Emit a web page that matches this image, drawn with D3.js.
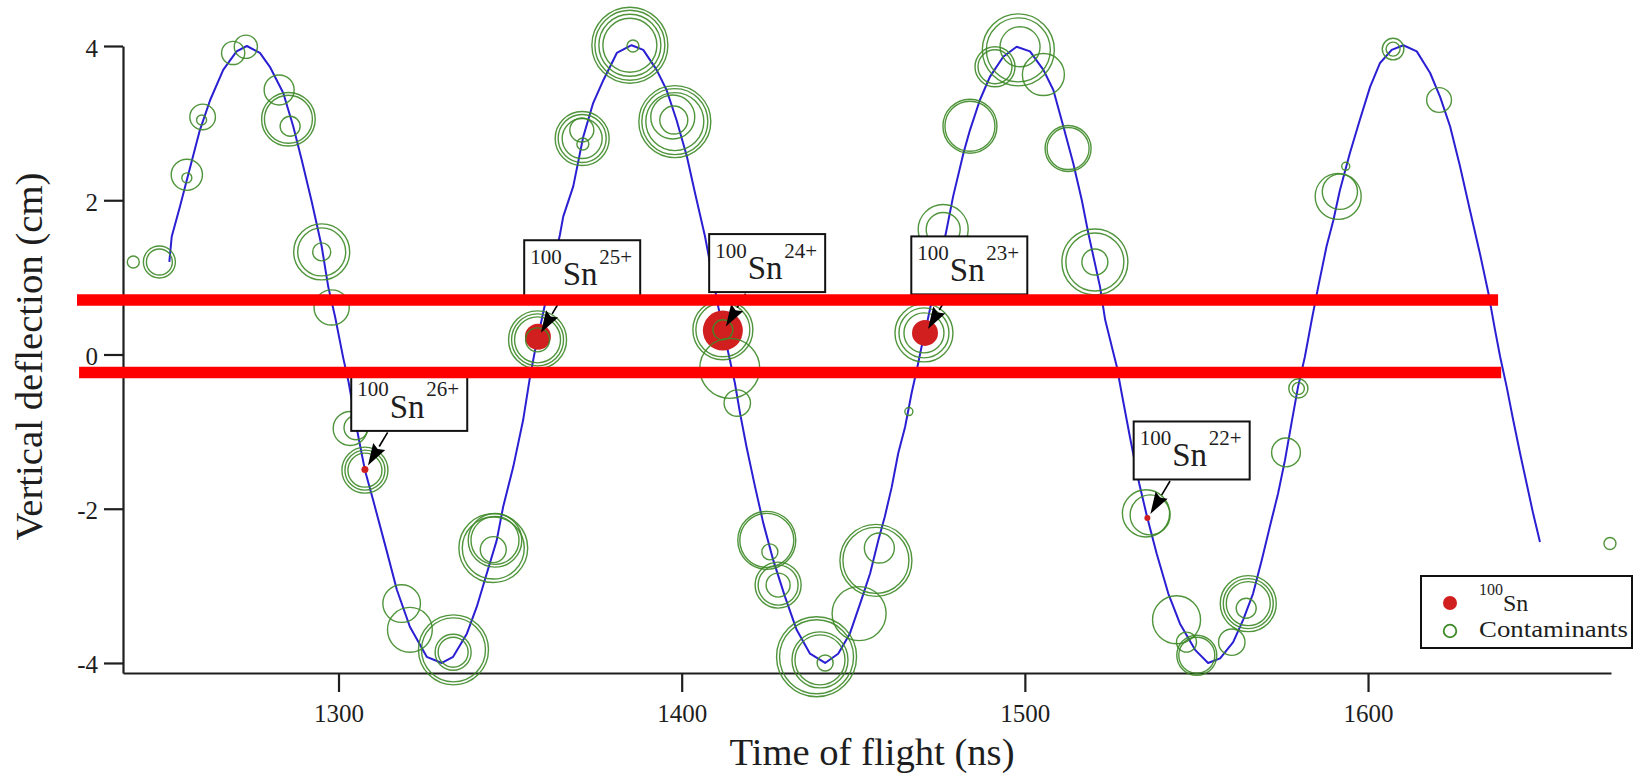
<!DOCTYPE html>
<html>
<head>
<meta charset="utf-8">
<script src="https://cdn.jsdelivr.net/npm/d3@7"></script>
<style>
html,body{margin:0;padding:0;background:#fff;}
svg{display:block;}
svg text{font-family:'Liberation Serif','DejaVu Serif',serif;}
</style>
</head>
<body>
<svg id="chart" width="1635" height="775"></svg>
<script>
// ---------------- DATA ----------------
// Simulated trajectory of 100Sn: [time of flight (ns), vertical deflection (cm)]
const curvePoints = [
[1250.7,1.20],[1251.4,1.53],[1253.8,1.92],[1256.2,2.33],[1259.6,2.91],[1262.6,3.30],[1266.4,3.69],[1270.3,3.93],
[1273.3,4.00],[1277.1,3.91],[1280.0,3.73],[1283.9,3.39],[1286.8,2.96],[1289.3,2.52],[1292.2,1.98],[1295.1,1.40],
[1297.0,0.88],[1299.0,0.49],[1301.4,-0.05],[1302.9,-0.35],[1305.8,-1.07],[1307.7,-1.50],[1310.1,-1.89],[1314.0,-2.54],
[1317.0,-3.05],[1320.8,-3.53],[1325.7,-3.92],[1330.1,-4.00],[1333.4,-3.92],[1337.4,-3.62],[1340.3,-3.27],[1343.2,-2.84],
[1346.1,-2.41],[1348.0,-1.97],[1350.9,-1.46],[1353.8,-0.85],[1355.8,-0.29],[1357.3,0.06],[1359.2,0.45],[1364.5,1.55],
[1365.5,1.79],[1368.4,2.18],[1371.3,2.82],[1374.2,3.26],[1377.2,3.56],[1381.1,3.91],[1385.4,4.01],[1388.8,3.95],
[1392.7,3.69],[1395.6,3.43],[1398.5,3.04],[1401.5,2.57],[1403.9,2.09],[1406.8,1.53],[1410.7,0.61],[1413.6,0.02],
[1415.5,-0.37],[1417.0,-0.76],[1418.9,-1.20],[1421.4,-1.72],[1423.8,-2.19],[1426.7,-2.67],[1430.1,-3.14],[1433.5,-3.57],
[1437.4,-3.88],[1441.8,-4.00],[1445.6,-3.88],[1449.0,-3.62],[1452.0,-3.23],[1454.9,-2.84],[1457.3,-2.41],[1459.2,-2.10],
[1461.2,-1.72],[1463.1,-1.28],[1465.1,-0.94],[1467.0,-0.50],[1468.5,-0.20],[1469.9,0.10],[1470.9,0.28],[1477.2,1.62],
[1479.1,2.05],[1482.1,2.61],[1484.0,2.91],[1486.9,3.30],[1489.8,3.60],[1493.7,3.86],[1497.6,3.99],[1501.5,3.93],
[1505.4,3.69],[1508.3,3.43],[1511.2,2.96],[1514.1,2.48],[1516.6,2.00],[1518.5,1.57],[1521.9,0.88],[1523.4,0.45],
[1525.8,0.02],[1526.8,-0.16],[1528.2,-0.50],[1530.7,-1.09],[1533.3,-1.67],[1535.7,-2.12],[1538.4,-2.58],[1541.8,-3.10],
[1545.2,-3.49],[1549.6,-3.83],[1553.4,-4.00],[1556.9,-3.94],[1560.7,-3.73],[1563.6,-3.44],[1566.5,-3.10],[1569.0,-2.67],
[1571.4,-2.23],[1573.8,-1.80],[1575.8,-1.37],[1577.7,-0.89],[1579.6,-0.42],[1581.6,-0.03],[1583.6,0.45],[1585.5,0.88],
[1587.9,1.40],[1589.9,1.74],[1591.8,2.13],[1594.7,2.61],[1597.6,3.04],[1600.6,3.47],[1603.5,3.78],[1606.9,3.95],
[1610.3,4.01],[1614.2,3.93],[1618.1,3.65],[1621.0,3.34],[1623.9,2.96],[1626.8,2.44],[1629.7,1.87],[1632.6,1.31],
[1635.1,0.79],[1637.0,0.32],[1638.5,-0.03],[1640.4,-0.42],[1642.3,-0.85],[1644.3,-1.28],[1646.2,-1.67],[1648.1,-2.06],
[1650.1,-2.43]
];

// Contaminants: [time of flight (ns), deflection (cm), intensity (a.u.)]
const contaminants = [
[1240.2,1.20,15],
[1247.8,1.20,40],[1247.8,1.20,32.5],
[1255.8,2.33,39],[1255.8,2.29,12.5],
[1260.4,3.08,32],[1260.1,3.04,12.5],
[1269.3,3.91,29],
[1273.0,3.99,29],
[1282.7,3.43,37.5],
[1285.4,3.05,67],[1285.4,3.05,60],[1285.9,2.96,25],
[1295.1,1.33,70],[1295.1,1.33,60],[1295.1,1.33,22.5],
[1298.0,0.61,44],
[1303.4,-0.96,42.5],[1305.1,-0.95,30],
[1307.7,-1.50,57.5],[1307.7,-1.50,50],[1307.7,-1.50,42.5],
[1318.4,-3.23,47],
[1320.8,-3.57,56],
[1333.5,-3.83,87.5],[1333.5,-3.83,80],[1333.4,-3.86,45],[1333.4,-3.86,37.5],
[1345.1,-2.51,86],[1345.1,-2.51,77.5],[1345.6,-2.41,67],[1345.6,-2.41,60],[1345.1,-2.53,32.5],
[1358.0,0.19,72.5],[1358.0,0.19,65],[1358.0,0.19,57.5],[1358.0,0.19,30],
[1371.0,2.80,67.5],[1371.0,2.80,60],[1371.0,2.80,50],[1370.9,2.91,30],[1371.2,2.73,15],
[1384.9,4.01,95],[1384.9,4.01,87.5],[1384.9,4.01,77.5],[1384.9,4.01,67.5],[1385.8,4.00,15],
[1398.0,3.02,90],[1398.0,3.02,82.5],[1398.0,3.02,72.5],[1397.4,3.08,55],[1397.7,3.04,35],
[1412.0,0.32,75],[1412.0,0.32,67.5],[1412.0,0.32,25],
[1414.0,-0.18,75],
[1416.2,-0.63,33],
[1424.8,-2.41,72.5],[1424.8,-2.41,67.5],[1425.7,-2.56,20],
[1428.1,-2.99,57.5],[1428.1,-2.99,50],[1428.1,-2.99,30],
[1439.3,-3.92,100],[1439.3,-3.92,92.5],[1440.3,-3.96,70],[1440.3,-3.96,62.5],[1441.8,-4.00,20],
[1451.7,-3.36,67.5],
[1456.6,-2.67,90],[1456.6,-2.67,82.5],[1457.6,-2.51,37.5],
[1466.2,-0.74,10],
[1470.6,0.28,72.5],[1470.6,0.28,62.5],[1470.6,0.28,50],
[1476.2,1.62,62.5],[1476.2,1.62,42.5],
[1484.0,2.96,67.5],[1484.0,2.96,62.5],
[1491.3,3.73,50],[1491.3,3.73,42.5],
[1498.1,3.95,90],[1498.1,3.95,80],[1498.6,3.99,50],
[1505.4,3.63,52.5],
[1512.6,2.67,57.5],[1512.6,2.67,52.5],
[1520.4,1.20,82.5],[1520.4,1.20,72.5],[1520.4,1.20,32.5],
[1535.3,-2.06,59],[1536.5,-2.08,50],
[1544.2,-3.44,60],
[1547.1,-3.73,25],
[1550.1,-3.90,50],[1550.1,-3.90,45],
[1560.3,-3.73,33],
[1565.1,-3.23,70],[1565.1,-3.23,62.5],[1565.1,-3.23,55],[1564.5,-3.29,25],
[1576.1,-1.27,36],
[1579.7,-0.44,24],[1579.7,-0.44,15],
[1591.3,2.05,57.5],[1591.8,2.11,44],
[1593.5,2.44,10],
[1607.3,3.96,27],[1607.3,3.96,17.5],
[1620.7,3.30,31],
[1670.5,-2.45,15]
];

// 100Sn ions: [time of flight (ns), deflection (cm), intensity (a.u.)]
const snPoints = [
[1307.7,-1.49,8.75],
[1358.1,0.23,32.5],
[1412.0,0.31,50],
[1470.9,0.28,32.5],
[1535.7,-2.12,7.5]
];
const snCharges = ["26+","25+","24+","23+","22+"];

// Acceptance window (red lines): deflection (cm), start / end time (ns)
const gateV  = [0.707, -0.233];
const gateT0 = [1223.8, 1224.4];
const gateT1 = [1637.9, 1638.8];

const xTicks = [1300, 1400, 1500, 1600];
const yTicks = [-4, -2, 0, 2, 4];
const xDomain = [1237.2, 1670.8];
const yDomain = [-4.13, 4];
const xTitle = "Time of flight (ns)";
const yTitle = "Vertical deflection (cm)";
const legendLabels = ["Sn", "Contaminants"];

// ---------------- DRAWING ----------------
const FONT = "'Liberation Serif','DejaVu Serif',serif";
const INK = "#1e1e1e";
const GREEN = "#3d8a27";
const RED_DOT = "#d11f1f";
const BLUE = "#2a1fd2";

const svg = d3.select("#chart");
svg.append("rect").attr("width",1635).attr("height",775).attr("fill","#fff");

const x = d3.scaleLinear().domain(xDomain).range([123, 1611]);
const y = d3.scaleLinear().domain(yDomain).range([673, 46]);
const r = d3.scaleLinear().domain([0, 100]).range([0, 40]);

// axes
const gx = svg.append("g")
  .attr("transform", `translate(0,${y(yDomain[0])})`)
  .call(d3.axisBottom(x).tickValues(xTicks).tickSize(19).tickSizeOuter(0)
        .tickPadding(12).tickFormat(d3.format("d")));
const gy = svg.append("g")
  .attr("transform", `translate(${x(xDomain[0])},0)`)
  .call(d3.axisLeft(y).tickValues(yTicks).tickSize(19).tickSizeOuter(0)
        .tickPadding(6).tickFormat(d => String(d)));
[gx, gy].forEach(g => {
  g.attr("font-family", null).attr("font-size", null);
  g.selectAll("path, line").attr("stroke", INK).attr("stroke-width", 2.2);
  g.selectAll("text").style("font-family", FONT).style("font-size", "25px").attr("fill", INK);
});
gy.selectAll("text").attr("dy", "0.4em");

// axis titles
svg.append("text")
  .attr("x", (x.range()[0] + x.range()[1]) / 2 + 5).attr("y", 765)
  .attr("text-anchor", "middle")
  .style("font-size", "38px").attr("fill", INK)
  .attr("textLength", 285).attr("lengthAdjust", "spacingAndGlyphs")
  .text(xTitle);
svg.append("text")
  .attr("transform", `translate(42,${(y.range()[0] + y.range()[1]) / 2 - 3}) rotate(-90)`)
  .attr("text-anchor", "middle")
  .style("font-size", "38px").attr("fill", INK)
  .attr("textLength", 368).attr("lengthAdjust", "spacingAndGlyphs")
  .text(yTitle);

// trajectory curve
const line = d3.line().x(d => x(d[0])).y(d => y(d[1]));
svg.append("path")
  .datum(curvePoints)
  .attr("d", line)
  .attr("fill", "none")
  .attr("stroke", BLUE)
  .attr("stroke-width", 2)
  .attr("stroke-linejoin", "round");

// 100Sn markers
svg.append("g").selectAll("circle")
  .data(snPoints).join("circle")
  .attr("cx", d => x(d[0])).attr("cy", d => y(d[1]))
  .attr("r", d => r(d[2]))
  .attr("fill", RED_DOT);

// contaminants
svg.append("g").selectAll("circle")
  .data(contaminants).join("circle")
  .attr("cx", d => x(d[0])).attr("cy", d => y(d[1]))
  .attr("r", d => r(d[2]))
  .attr("fill", "none")
  .attr("stroke", GREEN)
  .attr("stroke-width", 1.4)
  .attr("stroke-opacity", 0.9);

// annotation tags
const tags = svg.append("g").selectAll("g")
  .data(snPoints).join("g")
  .attr("transform", d => `translate(${x(d[0]) - 13.7},${y(d[1]) - 96.5})`);
tags.append("rect")
  .attr("width", 116).attr("height", 58)
  .attr("fill", "#fff").attr("stroke", "#111").attr("stroke-width", 2);
tags.append("text")
  .attr("x", 6).attr("y", 23.5)
  .style("font-size", "21px").attr("fill", INK)
  .text("100");
tags.append("text")
  .attr("x", 38.5).attr("y", 45)
  .style("font-size", "33px").attr("fill", INK)
  .text("Sn");
tags.append("text")
  .attr("x", 75).attr("y", 23.5)
  .style("font-size", "21px").attr("fill", INK)
  .text((d, i) => snCharges[i]);

// arrows
const arrows = svg.append("g");
snPoints.forEach(d => {
  const mx = x(d[0]), my = y(d[1]);
  const tip = [mx + 3, my - 4], tail = [mx + 22.7, my - 37];
  const dx = tip[0] - tail[0], dy = tip[1] - tail[1];
  const L = Math.hypot(dx, dy), ux = dx / L, uy = dy / L;
  const hl = 22, hw = 7;
  const base = [tip[0] - ux * hl, tip[1] - uy * hl];
  const px = -uy, py = ux;
  arrows.append("line")
    .attr("x1", tail[0]).attr("y1", tail[1]).attr("x2", base[0]).attr("y2", base[1])
    .attr("stroke", "#000").attr("stroke-width", 1.6);
  arrows.append("path")
    .attr("d", d3.line()([tip, [base[0] + px * hw, base[1] + py * hw], [base[0] + ux * 3, base[1] + uy * 3], [base[0] - px * hw, base[1] - py * hw]]) + "Z")
    .attr("fill", "#000");
});

// acceptance window lines
svg.append("g").selectAll("line")
  .data(gateV).join("line")
  .attr("x1", (v, i) => x(gateT0[i])).attr("x2", (v, i) => x(gateT1[i]))
  .attr("y1", v => y(v)).attr("y2", v => y(v))
  .attr("stroke", "#ff0000").attr("stroke-width", 11.5);

// legend
const lg = svg.append("g");
lg.append("rect").attr("x", 1421).attr("y", 576).attr("width", 211).attr("height", 72)
  .attr("fill", "#fff").attr("stroke", "#111").attr("stroke-width", 2);
lg.append("circle").attr("cx", 1450).attr("cy", 603).attr("r", 7).attr("fill", RED_DOT);
lg.append("circle").attr("cx", 1450).attr("cy", 631).attr("r", 6.3)
  .attr("fill", "none").attr("stroke", GREEN).attr("stroke-width", 1.8);
lg.append("text").attr("x", 1479).attr("y", 595)
  .style("font-size", "16px").attr("fill", INK).text("100");
lg.append("text").attr("x", 1503).attr("y", 611)
  .style("font-size", "24px").attr("fill", INK).text(legendLabels[0]);
lg.append("text").attr("x", 1479).attr("y", 637)
  .style("font-size", "24px").attr("fill", INK)
  .attr("textLength", 149).attr("lengthAdjust", "spacingAndGlyphs")
  .text(legendLabels[1]);
</script>
</body>
</html>
